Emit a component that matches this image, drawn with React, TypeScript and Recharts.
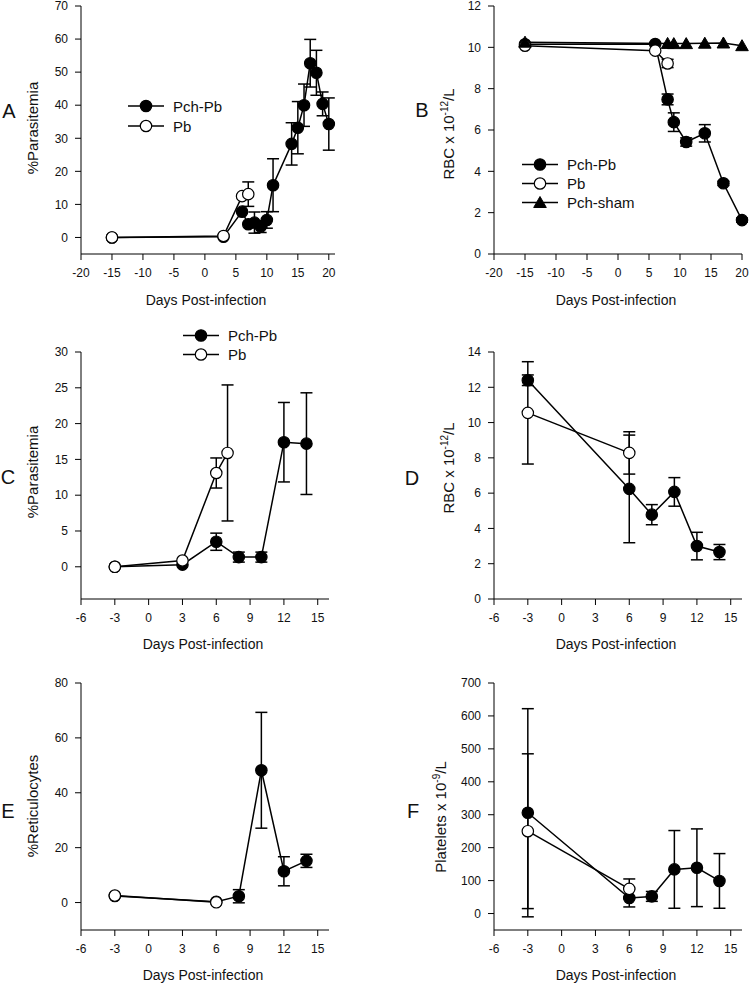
import React from 'react'
import { ComposedChart, Line, XAxis, YAxis, ErrorBar, Legend } from 'recharts'

const FONT = '"Liberation Sans", Arial, Helvetica, sans-serif'
const INK = '#111'

// A: %parasitemia, long course
const pchPbDaysA = [-15, 3, 6, 7, 8, 9, 10, 11, 14, 15, 16, 17, 18, 19, 20]
const pchPbA = [0, 0.2, 7.8, 4.0, 4.5, 3.3, 5.3, 15.8, 28.3, 33.2, 40.0, 52.7, 49.8, 40.4, 34.3]
const pchPbSemA = [0, 0, 0, 0, 3.2, 1.8, 2.5, 8.0, 6.4, 7.9, 6.4, 7.2, 6.8, 3.6, 7.9]
const pbDaysA = [-15, 3, 6, 7]
const pbA = [0, 0.45, 12.5, 13.1]
const pbSemA = [0, 0, 0, 3.7]

// B: RBC, long course
const pchPbDaysB = [-15, 6, 8, 9, 11, 14, 17, 20]
const pchPbB = [10.15, 10.16, 7.48, 6.38, 5.42, 5.84, 3.42, 1.64]
const pchPbSemB = [0, 0, 0.26, 0.45, 0.2, 0.42, 0.1, 0.1]
const pbDaysB = [-15, 6, 8]
const pbB = [10.08, 9.84, 9.22]
const pbSemB = [0, 0, 0.2]
const shamDaysB = [-15, 8, 9, 11, 14, 17, 20]
const shamB = [10.25, 10.19, 10.18, 10.18, 10.2, 10.21, 10.08]

// C: %parasitemia
const pchPbDaysC = [-3, 3, 6, 8, 10, 12, 14]
const pchPbC = [0, 0.3, 3.5, 1.35, 1.35, 17.4, 17.2]
const pchPbSemC = [0, 0, 1.2, 0.7, 0.7, 5.55, 7.1]
const pbDaysC = [-3, 3, 6, 7]
const pbC = [0, 0.88, 13.1, 15.9]
const pbSemC = [0, 0, 2.1, 9.5]

// D: RBC
const pchPbDaysD = [-3, 6, 8, 10, 12, 14]
const pchPbD = [12.4, 6.24, 4.78, 6.07, 3.0, 2.66]
const pchPbSemD = [0.3, 3.05, 0.57, 0.81, 0.78, 0.43]
const pbDaysD = [-3, 6]
const pbD = [10.55, 8.28]
const pbSemD = [2.9, 1.2]

// E: %reticulocytes
const pchPbDaysE = [-3, 6, 8, 10, 12, 14]
const pchPbE = [2.4, 0.3, 2.3, 48.2, 11.4, 15.2]
const pchPbSemE = [0, 0, 2.4, 21.1, 5.3, 2.4]
const pbDaysE = [-3, 6]
const pbE = [2.55, 0.1]

// F: platelets
const pchPbDaysF = [-3, 6, 8, 10, 12, 14]
const pchPbF = [306, 47, 52, 134, 139, 99]
const pchPbSemF = [316, 27, 15, 118, 118, 83]
const pbDaysF = [-3, 6]
const pbF = [250, 75]
const pbSemF = [235, 30]

const longDays = [-20, -15, -10, -5, 0, 5, 10, 15, 20]
const shortDays = [-6, -3, 0, 3, 6, 9, 12, 15]

type Kind = 'filled' | 'open' | 'triangle'
type Pt = { x: number; y: number; e?: number }
type Series = { name: string; kind: Kind; data: Pt[] }

const pts = (days: number[], vals: number[], sem?: number[]): Pt[] =>
  days.map((x, i) => ({ x, y: vals[i], e: sem ? sem[i] : 0 }))

function marker(kind: Kind, cx: number, cy: number, key?: string) {
  if (kind === 'triangle') {
    return (
      <path key={key} d={`M${cx},${cy - 6}L${cx + 6.3},${cy + 5}L${cx - 6.3},${cy + 5}Z`}
        fill="#000" stroke="#000" strokeWidth={1} />
    )
  }
  return <circle key={key} cx={cx} cy={cy} r={5.7} fill={kind === 'filled' ? '#000' : '#fff'} stroke="#000" strokeWidth={1.2} />
}

function LegendBox({ items, rowH }: { items: Series[]; rowH: number }) {
  return (
    <div style={{ fontFamily: FONT, fontSize: 15, color: INK, lineHeight: 1 }}>
      {items.map((it) => (
        <div key={it.name} style={{ display: 'flex', alignItems: 'center', height: rowH }}>
          <svg width={36} height={rowH} style={{ marginRight: 9 }}>
            <line x1={0} x2={36} y1={rowH / 2} y2={rowH / 2} stroke="#000" strokeWidth={1.5} />
            {marker(it.kind, 18, rowH / 2)}
          </svg>
          <span>{it.name}</span>
        </div>
      ))}
    </div>
  )
}

type PanelProps = {
  box: [number, number, number, number]
  plot: [number, number, number, number]
  xDomain: [number, number]
  xTicks: number[]
  yDomain: [number, number]
  yTicks: number[]
  series: Series[]
  letter: string
  letterPos: [number, number]
  yLabel: React.ReactNode
  yLabelPos: [number, number]
  titleY: number
  legend?: { x: number; y: number; rowH: number }
}

function Panel(p: PanelProps) {
  const [bl, bt, bw, bh] = p.box
  const [pl, pt, pr, pb] = p.plot
  const tick = { fontSize: 12, fill: INK, fontFamily: FONT }
  return (
    <div style={{ position: 'absolute', left: bl, top: bt }}>
      <ComposedChart width={bw} height={bh} margin={{ top: pt - bt, right: bl + bw - pr, left: 0, bottom: 0 }}>
        <XAxis type="number" dataKey="x" domain={p.xDomain} ticks={p.xTicks} interval={0}
          height={bt + bh - pb} stroke="#000" tickSize={6} tickMargin={8} tick={tick}
          label={() => (
            <text x={(pl + pr) / 2 - bl - 2} y={p.titleY - bt} textAnchor="middle" fontSize={14}
              fontFamily={FONT} fill={INK}>Days Post-infection</text>
          )} />
        <YAxis type="number" domain={p.yDomain} ticks={p.yTicks} interval={0}
          width={pl - bl} stroke="#000" tickSize={6} tickMargin={7} tick={tick}
          label={() => {
            const lx = p.yLabelPos[0] - bl
            const ly = p.yLabelPos[1] - bt
            return (
              <g>
                <text x={p.letterPos[0] - bl} y={p.letterPos[1] - bt} textAnchor="middle" fontSize={20}
                  fontFamily={FONT} fill={INK}>{p.letter}</text>
                <text x={lx} y={ly} transform={`rotate(-90 ${lx} ${ly})`} textAnchor="middle" fontSize={15}
                  fontFamily={FONT} fill={INK}>{p.yLabel}</text>
              </g>
            )
          }} />
        {p.series.map((s) => (
          <Line key={s.name} data={s.data} dataKey="y" name={s.name} type="linear" stroke="#000"
            strokeWidth={1.5} isAnimationActive={false} activeDot={false}
            dot={(d: any) => marker(s.kind, d.cx, d.cy, `${s.name}-${d.index}`)}>
            <ErrorBar dataKey="e" direction="y" width={6} stroke="#000" strokeWidth={1.5} />
          </Line>
        ))}
        {p.legend && (
          <Legend layout="vertical" align="center" verticalAlign="middle"
            wrapperStyle={{ left: p.legend.x - bl, top: p.legend.y - bt, width: 'auto' }}
            content={() => <LegendBox items={p.series} rowH={p.legend!.rowH} />} />
        )}
      </ComposedChart>
    </div>
  )
}

const rbcLabel = (
  <>
    RBC x 10<tspan dy={-6} fontSize={10}>-12</tspan><tspan dy={6}>/L</tspan>
  </>
)

export default function App() {
  const seriesA: Series[] = [
    { name: 'Pch-Pb', kind: 'filled', data: pts(pchPbDaysA, pchPbA, pchPbSemA) },
    { name: 'Pb', kind: 'open', data: pts(pbDaysA, pbA, pbSemA) },
  ]
  const seriesB: Series[] = [
    { name: 'Pch-Pb', kind: 'filled', data: pts(pchPbDaysB, pchPbB, pchPbSemB) },
    { name: 'Pb', kind: 'open', data: pts(pbDaysB, pbB, pbSemB) },
    { name: 'Pch-sham', kind: 'triangle', data: pts(shamDaysB, shamB) },
  ]
  const seriesC: Series[] = [
    { name: 'Pch-Pb', kind: 'filled', data: pts(pchPbDaysC, pchPbC, pchPbSemC) },
    { name: 'Pb', kind: 'open', data: pts(pbDaysC, pbC, pbSemC) },
  ]
  const seriesD: Series[] = [
    { name: 'Pch-Pb', kind: 'filled', data: pts(pchPbDaysD, pchPbD, pchPbSemD) },
    { name: 'Pb', kind: 'open', data: pts(pbDaysD, pbD, pbSemD) },
  ]
  const seriesE: Series[] = [
    { name: 'Pch-Pb', kind: 'filled', data: pts(pchPbDaysE, pchPbE, pchPbSemE) },
    { name: 'Pb', kind: 'open', data: pts(pbDaysE, pbE) },
  ]
  const seriesF: Series[] = [
    { name: 'Pch-Pb', kind: 'filled', data: pts(pchPbDaysF, pchPbF, pchPbSemF) },
    { name: 'Pb', kind: 'open', data: pts(pbDaysF, pbF, pbSemF) },
  ]

  return (
    <div style={{ position: 'absolute', left: 0, top: 0, width: 750, height: 986, background: '#fff' }}>
      <Panel box={[0, 0, 375, 320]} plot={[81, 6, 335, 254]} xDomain={[-20, 21]} xTicks={longDays}
        yDomain={[-5, 70]} yTicks={[0, 10, 20, 30, 40, 50, 60, 70]} series={seriesA}
        letter="A" letterPos={[9, 118]} yLabel="%Parasitemia" yLabelPos={[38, 128]} titleY={305}
        legend={{ x: 128, y: 96, rowH: 20 }} />
      <Panel box={[375, 0, 375, 320]} plot={[494, 6, 742, 254]} xDomain={[-20, 20]} xTicks={longDays}
        yDomain={[0, 12]} yTicks={[0, 2, 4, 6, 8, 10, 12]} series={seriesB}
        letter="B" letterPos={[422, 117]} yLabel={rbcLabel} yLabelPos={[454, 134]} titleY={305}
        legend={{ x: 522, y: 155, rowH: 19 }} />
      <Panel box={[0, 320, 375, 335]} plot={[81, 352, 329, 599]} xDomain={[-6, 16]} xTicks={shortDays}
        yDomain={[-4.5, 30]} yTicks={[0, 5, 10, 15, 20, 25, 30]} series={seriesC}
        letter="C" letterPos={[8, 484]} yLabel="%Parasitemia" yLabelPos={[38, 472]} titleY={649}
        legend={{ x: 183, y: 326, rowH: 19 }} />
      <Panel box={[375, 320, 375, 335]} plot={[494, 352, 742, 599]} xDomain={[-6, 16]} xTicks={shortDays}
        yDomain={[0, 14]} yTicks={[0, 2, 4, 6, 8, 10, 12, 14]} series={seriesD}
        letter="D" letterPos={[412, 485]} yLabel={rbcLabel} yLabelPos={[454, 468]} titleY={649} />
      <Panel box={[0, 650, 375, 336]} plot={[81, 683, 329, 930]} xDomain={[-6, 16]} xTicks={shortDays}
        yDomain={[-10, 80]} yTicks={[0, 20, 40, 60, 80]} series={seriesE}
        letter="E" letterPos={[8, 818]} yLabel="%Reticulocytes" yLabelPos={[38, 806]} titleY={980} />
      <Panel box={[375, 650, 375, 336]} plot={[494, 683, 742, 930]} xDomain={[-6, 16]} xTicks={shortDays}
        yDomain={[-50, 700]} yTicks={[0, 100, 200, 300, 400, 500, 600, 700]} series={seriesF}
        letter="F" letterPos={[413, 818]}
        yLabel={<>Platelets x 10<tspan dy={-6} fontSize={10}>-9</tspan><tspan dy={6}>/L</tspan></>}
        yLabelPos={[446, 817]} titleY={980} />
    </div>
  )
}
